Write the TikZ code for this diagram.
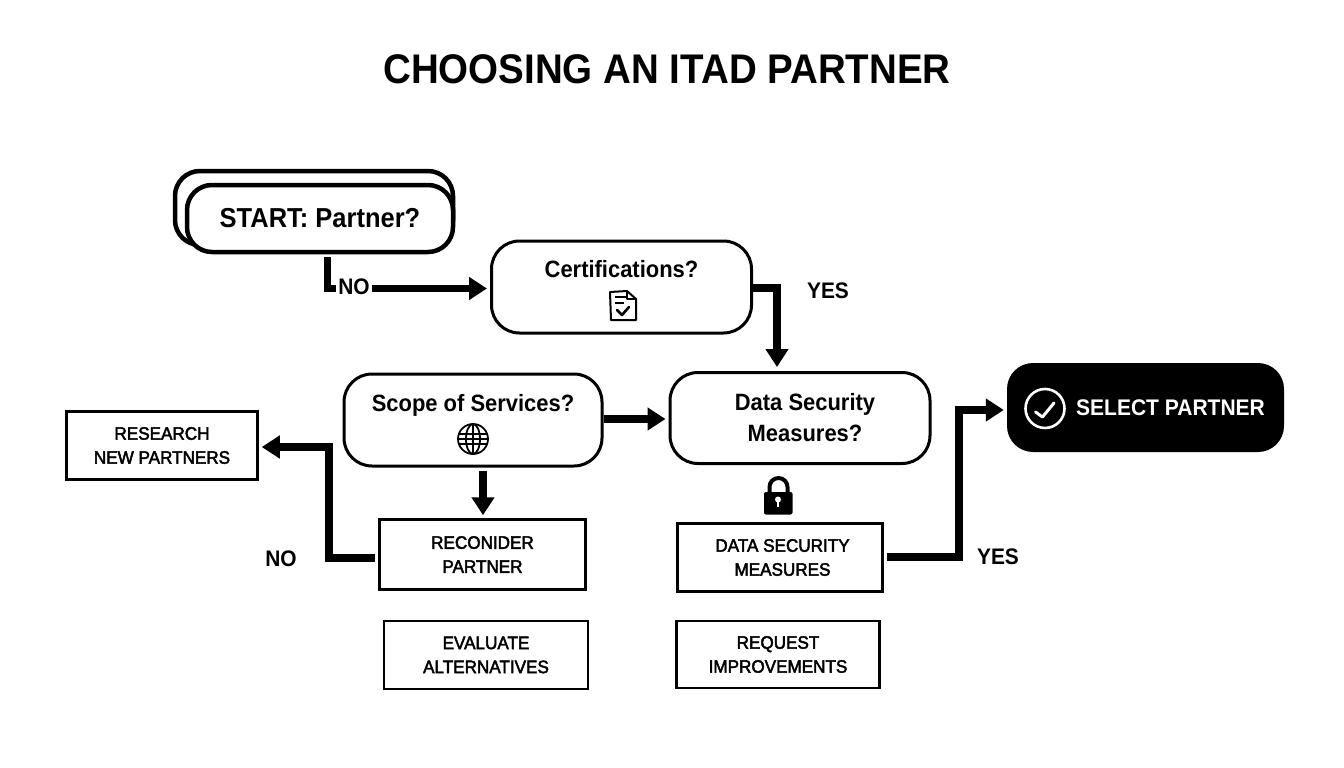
\documentclass[tikz,border=0pt]{standalone}
\usepackage{fontspec}
\setmainfont{Liberation Sans}[FakeStretch=0.93]
\newfontfamily\medfont[FakeBold=2.5,FakeStretch=0.95]{Liberation Sans}
\usetikzlibrary{arrows.meta}
\tikzset{
  x=1pt,y=-1pt,
  thickarrow/.style={line width=7.5pt,-{Triangle[length=18pt,width=22pt]},line join=miter},
  question/.style={draw,line width=3pt,rounded corners=28pt,align=center,inner sep=0pt,fill=white,font=\fontsize{23.6}{31}\selectfont\bfseries},
  startbox/.style={question,line width=4.5pt,rounded corners=25pt,font=\fontsize{27.4}{31}\selectfont\bfseries},
  actionbox/.style={draw,line width=2.5pt,align=center,inner sep=0pt,font=\fontsize{18}{24}\selectfont\medfont},
  flowlabel/.style={font=\fontsize{22.5}{24}\selectfont\bfseries,inner sep=0pt},
  icon/.style={line width=2pt,line cap=round,line join=round}
}
\begin{document}
\begin{tikzpicture}
\useasboundingbox (0,0) rectangle (1344,768);
\fill[white] (0,0) rectangle (1344,768);
\node[font=\fontsize{41.4}{44}\selectfont\bfseries,inner sep=0pt] (title) at (667,69) {CHOOSING AN ITAD PARTNER};

\node[startbox,minimum width=278pt,minimum height=74pt] (startback) at (314,208) {};
\node[startbox,minimum width=266pt,minimum height=67pt] (start) at (320,218.5) {START: Partner?};
\node[question,minimum width=260pt,minimum height=92pt] (cert) at (621.5,287) {Certifications?\\[5pt]\mbox{}};
\node[question,minimum width=258pt,minimum height=92pt] (scope) at (473,420) {Scope of Services?\\[3pt]\mbox{}};
\node[question,minimum width=260pt,minimum height=91pt] (data) at (800,418) {\hspace*{10pt}Data Security\\\hspace*{10pt}Measures?};
\node[fill=black,text=white,rounded corners=26pt,minimum width=277pt,minimum height=89pt,inner sep=0pt,font=\fontsize{22.6}{24}\selectfont\bfseries] (select) at (1145.5,407.5) {\hspace*{50pt}SELECT PARTNER};
\node[actionbox,minimum width=191pt,minimum height=68pt] (research) at (162,445.5) {RESEARCH\\NEW PARTNERS};
\node[actionbox,minimum width=206pt,minimum height=70pt] (reconsider) at (482.5,554.5) {RECONIDER\\PARTNER};
\node[actionbox,minimum width=205pt,minimum height=68pt] (securitybox) at (780,557.5) {\hspace*{5pt}DATA SECURITY\\\hspace*{5pt}MEASURES};
\node[actionbox,minimum width=204pt,minimum height=68pt] (evaluate) at (486,655) {EVALUATE\\ALTERNATIVES};
\node[actionbox,minimum width=203pt,minimum height=67pt] (request) at (778,654.5) {REQUEST\\IMPROVEMENTS};

% connectors
\coordinate (s1) at (327.5,257);
\coordinate (c1) at (753,288);
\coordinate (c2) at (777,367);
\draw[thickarrow,shorten >=3pt] (s1) |- (cert.west |- 0,288.5);
\node[flowlabel,fill=white,inner xsep=2pt,inner ysep=1pt] (no1) at (354,287) {NO};
\draw[thickarrow] (c1) -| (c2);
\draw[thickarrow,shorten >=3pt] (scope.east |- 0,419) -- (data.west |- 0,419);
\draw[thickarrow,shorten <=3pt,shorten >=3pt] (scope.south -| 483,0) -- (reconsider.north -| 483,0);
\draw[thickarrow,shorten <=3pt,shorten >=3pt] (reconsider.west |- 0,558) -| (329,447) -- (research.east |- 0,447);
\draw[thickarrow,shorten <=3pt,shorten >=3pt] (securitybox.east |- 0,557) -| (959,410) -- (select.west |- 0,410);
\node[flowlabel] (yes1) at (828,291) {YES};
\node[flowlabel] (no2) at (281,559) {NO};
\node[flowlabel] (yes2) at (998,557) {YES};

% document icon
\draw[icon] (610,292) -- (627,291) -- (636,299) -- (636,320) -- (611,320) -- cycle;
\draw[icon] (627,291) -- (627,299) -- (636,299);
\draw[icon,line cap=butt] (614.5,297) -- (626,297) (614.5,302.5) -- (624,302.5);
\draw[icon,line width=2.6pt] (617,310) -- (622,315) -- (629,307);
% globe icon
\begin{scope}[icon,line width=1.8pt]
\draw (473,439) circle (15);
\draw (473,439) ellipse (7 and 15);
\draw (473,424) -- (473,454);
\draw (459,434) -- (487,434) (459,444) -- (487,444) (458,439) -- (488,439);
\end{scope}
% lock icon
\draw[line width=4pt] (769.5,494) -- (769.5,487) arc[start angle=180,end angle=360,radius=9] -- (787.5,494);
\fill[black,rounded corners=2pt] (764,492) rectangle (792.5,514.5);
\fill[white] (778,499.5) circle (3);
\fill[white] (776.7,500) rectangle (779.3,507);
% check circle
\draw[white,line width=2.6pt] (1045,408.5) circle (19.5);
\draw[white,line width=3pt,line cap=round,line join=round] (1035.5,412) -- (1042.5,417) -- (1054,403);
\end{tikzpicture}
\end{document}
